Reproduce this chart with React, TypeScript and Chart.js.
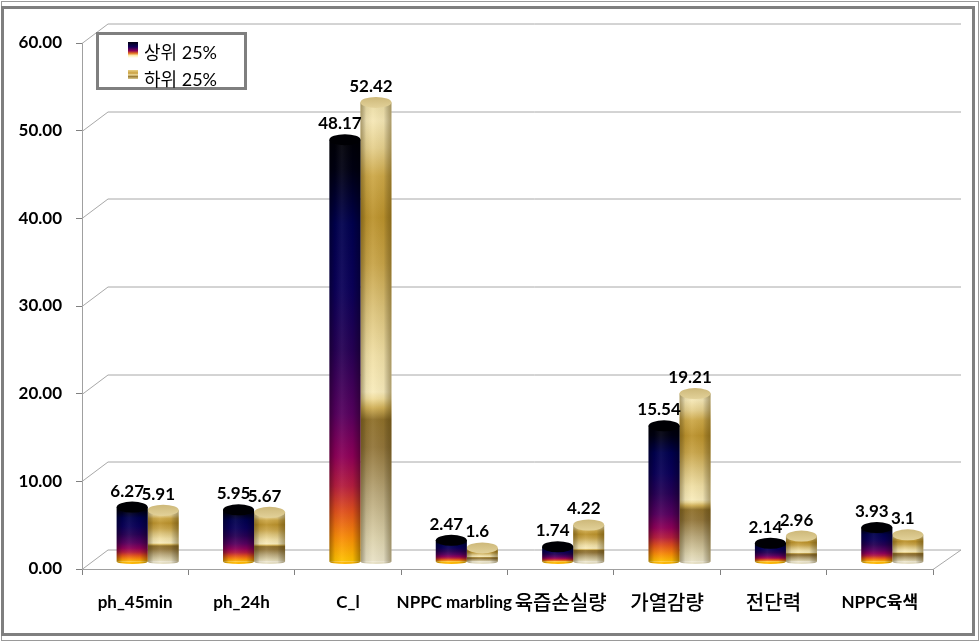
import React, { useEffect, useRef } from "react";
import { Chart, registerables } from "chart.js";

Chart.register(...registerables);

const categories = ["ph_45min", "ph_24h", "C_l", "NPPC marbling", "육즙손실량", "가열감량", "전단력", "NPPC육색"];
const upperValues = [6.27, 5.95, 48.17, 2.47, 1.74, 15.54, 2.14, 3.93];
const lowerValues = [5.91, 5.67, 52.42, 1.6, 4.22, 19.21, 2.96, 3.1];
const upperLabel = "상위 25%";
const lowerLabel = "하위 25%";

const darkStops: [number, string][] = [
  [0, "#000006"], [0.07, "#000012"], [0.2, "#00004e"], [0.35, "#0a0058"], [0.5, "#260054"],
  [0.65, "#56005e"], [0.75, "#8e0058"], [0.82, "#b51d3f"], [0.88, "#e0501c"], [0.94, "#f88a08"], [1, "#ffc400"],
];
const lightStops: [number, string][] = [
  [0, "#e8d9a0"], [0.04, "#f5e7b5"], [0.1, "#e5cf8c"], [0.16, "#cda848"], [0.25, "#bb922c"],
  [0.35, "#c8a448"], [0.45, "#dcc37a"], [0.55, "#f0dfa5"], [0.63, "#f8ebbb"], [0.645, "#f0dc9a"],
  [0.665, "#cfae55"], [0.69, "#8f702a"], [0.75, "#93763a"], [0.85, "#b8a678"], [0.95, "#dcd2ac"], [1, "#e9e2c6"],
];

const BAR_DX = 12.5;
const BAR_DY = -7;
const DEPTH_X = 26;
const DEPTH_Y = 19.5;
const CAP_RY = 5.5;
const BASE_RY = 2.5;
const LATIN = '"Lato", "Noto Sans CJK KR", sans-serif';

function makeGradient(ctx: CanvasRenderingContext2D, x0: number, y0: number, x1: number, y1: number, stops: [number, string][]) {
  const g = ctx.createLinearGradient(x0, y0, x1, y1);
  stops.forEach(([p, c]) => g.addColorStop(p, c));
  return g;
}

const barFill = (stops: [number, string][]) => (c: any) => {
  const y = c.chart.scales.y;
  if (!y || !c.parsed) return stops[0][1];
  const top = y.getPixelForValue(c.parsed.y);
  const base = y.getPixelForValue(0);
  if (!Number.isFinite(top) || !Number.isFinite(base)) return stops[0][1];
  return makeGradient(c.chart.ctx, 0, top, 0, base, stops);
};

const cylinderPlugin = {
  id: "cylinder",
  beforeDraw(chart: any) {
    const { ctx, width, height } = chart;
    ctx.save();
    ctx.fillStyle = "#ffffff";
    ctx.fillRect(0, 0, width, height);
    ctx.strokeStyle = "#9a9a9a";
    ctx.lineWidth = 1;
    ctx.strokeRect(1.5, 1.5, width - 3, height - 3);
    ctx.strokeStyle = "#7f7f7f";
    ctx.lineWidth = 3;
    ctx.strokeRect(2.5, 7.5, width - 9, height - 15);
    ctx.restore();
  },
  beforeDatasetsDraw(chart: any) {
    const { ctx, scales } = chart;
    const { x, y } = scales;
    ctx.save();
    ctx.strokeStyle = "#a8a8a8";
    ctx.lineWidth = 1;
    y.ticks.forEach((t: any) => {
      const py = Math.round(y.getPixelForValue(t.value)) + 0.5;
      ctx.beginPath();
      ctx.moveTo(x.left, py);
      ctx.lineTo(x.left + DEPTH_X, py - DEPTH_Y);
      ctx.lineTo(x.right + 28, py - DEPTH_Y);
      ctx.stroke();
    });
    const p0 = Math.round(y.getPixelForValue(0)) + 0.5;
    ctx.beginPath();
    ctx.moveTo(x.right, p0);
    ctx.lineTo(x.right + 28, p0 - DEPTH_Y);
    ctx.stroke();
    ctx.restore();
  },
  beforeDatasetDraw(chart: any) {
    chart.ctx.save();
    chart.ctx.translate(BAR_DX, BAR_DY);
  },
  afterDatasetDraw(chart: any, args: any) {
    const { ctx } = chart;
    const isDark = args.index === 0;
    const meta = chart.getDatasetMeta(args.index);
    meta.data.forEach((bar: any) => {
      const rx = bar.width / 2;
      const l = bar.x - rx;
      const r = bar.x + rx;
      ctx.fillStyle = isDark ? "#ffb800" : "#e9e2c6";
      ctx.beginPath();
      ctx.ellipse(bar.x, bar.base, rx, BASE_RY, 0, 0, Math.PI);
      ctx.fill();
      ctx.fillStyle = makeGradient(ctx, l, 0, r, 0, [
        [0, isDark ? "rgba(0,0,0,0.35)" : "rgba(70,50,0,0.42)"],
        [0.18, "rgba(0,0,0,0.06)"],
        [0.4, "rgba(255,255,255,0.06)"],
        [0.75, "rgba(0,0,0,0.04)"],
        [1, isDark ? "rgba(0,0,0,0.35)" : "rgba(70,50,0,0.42)"],
      ]);
      ctx.beginPath();
      ctx.moveTo(l, bar.y);
      ctx.lineTo(r, bar.y);
      ctx.lineTo(r, bar.base);
      ctx.ellipse(bar.x, bar.base, rx, BASE_RY, 0, 0, Math.PI);
      ctx.closePath();
      ctx.fill();
      ctx.fillStyle = isDark
        ? "#000004"
        : makeGradient(ctx, 0, bar.y - CAP_RY, 0, bar.y + CAP_RY, [[0, "#cdb879"], [1, "#e2d199"]]);
      ctx.beginPath();
      ctx.ellipse(bar.x, bar.y, rx, CAP_RY, 0, 0, Math.PI * 2);
      ctx.fill();
    });
    ctx.restore();
  },
  afterDatasetsDraw(chart: any) {
    const { ctx } = chart;
    ctx.save();
    ctx.font = `bold 17px ${LATIN}`;
    ctx.fillStyle = "#000000";
    ctx.textAlign = "center";
    ctx.textBaseline = "middle";
    [0, 1].forEach((i) => {
      chart.getDatasetMeta(i).data.forEach((bar: any, j: number) => {
        ctx.fillText(String(chart.data.datasets[i].data[j]), bar.x + BAR_DX - 5, bar.y + BAR_DY - 16);
      });
    });
    ctx.restore();
  },
  afterDraw(chart: any) {
    const { ctx } = chart;
    ctx.save();
    ctx.fillStyle = "#ffffff";
    ctx.fillRect(97, 33, 148, 55);
    ctx.strokeStyle = "#7f7f7f";
    ctx.lineWidth = 3;
    ctx.strokeRect(97.5, 33.5, 148, 55);
    ctx.fillStyle = makeGradient(ctx, 0, 42, 0, 58, [
      [0, "#000010"], [0.3, "#10005a"], [0.55, "#8e0058"], [0.7, "#e0701c"], [0.85, "#fff0b0"], [1, "#ffffff"],
    ]);
    ctx.fillRect(128, 42, 10, 16);
    ctx.fillStyle = makeGradient(ctx, 0, 70, 0, 79, [
      [0, "#e8cf85"], [0.35, "#c9a040"], [0.55, "#f0dfa5"], [0.7, "#9a7a30"], [1, "#d8c890"],
    ]);
    ctx.fillRect(128, 70, 10, 9);
    ctx.font = `18px ${LATIN}`;
    ctx.fillStyle = "#000000";
    ctx.textAlign = "left";
    ctx.textBaseline = "middle";
    ctx.fillText(chart.data.datasets[0].label, 144, 53);
    ctx.fillText(chart.data.datasets[1].label, 144, 80);
    ctx.restore();
  },
};

export default function App() {
  const ref = useRef<HTMLCanvasElement | null>(null);
  useEffect(() => {
    if (!ref.current) return;
    const chart = new Chart(ref.current, {
      type: "bar",
      data: {
        labels: categories,
        datasets: [
          { label: upperLabel, data: upperValues, backgroundColor: barFill(darkStops), categoryPercentage: 0.583, barPercentage: 1 },
          { label: lowerLabel, data: lowerValues, backgroundColor: barFill(lightStops), categoryPercentage: 0.583, barPercentage: 1 },
        ],
      },
      options: {
        responsive: false,
        animation: false,
        layout: { padding: { left: 0, right: 47, top: 43, bottom: 0 } },
        plugins: { legend: { display: false }, tooltip: { enabled: false } },
        scales: {
          x: {
            afterFit: (s: any) => { s.height = 73; },
            border: { color: "#a0a0a0" },
            grid: { offset: true, drawOnChartArea: false, tickLength: 6, color: "#808080" },
            ticks: {
              autoSkip: false,
              maxRotation: 0,
              minRotation: 0,
              padding: 17,
              color: "#000000",
              font: (c: any) => {
                const text = categories[c.index] || "";
                const size = /^[가-힣]+$/.test(text) ? 20 : 17;
                return { family: LATIN, weight: /^[가-힣]+$/.test(text) ? "500" : "bold", size };
              },
            },
          },
          y: {
            min: 0,
            max: 60,
            afterFit: (s: any) => { s.width = 82; },
            border: { color: "#a0a0a0" },
            grid: { drawOnChartArea: false, tickLength: 6, color: "#808080" },
            ticks: {
              stepSize: 10,
              padding: 14,
              color: "#000000",
              font: { family: LATIN, weight: "bold", size: 17 },
              callback: (v: any) => Number(v).toFixed(2),
            },
          },
        },
      },
      plugins: [cylinderPlugin],
    } as any);
    return () => chart.destroy();
  }, []);
  return (
    <div style={{ position: "absolute", left: 0, top: 0, width: 980, height: 642 }}>
      <canvas ref={ref} width={980} height={642} style={{ display: "block" }} />
    </div>
  );
}
